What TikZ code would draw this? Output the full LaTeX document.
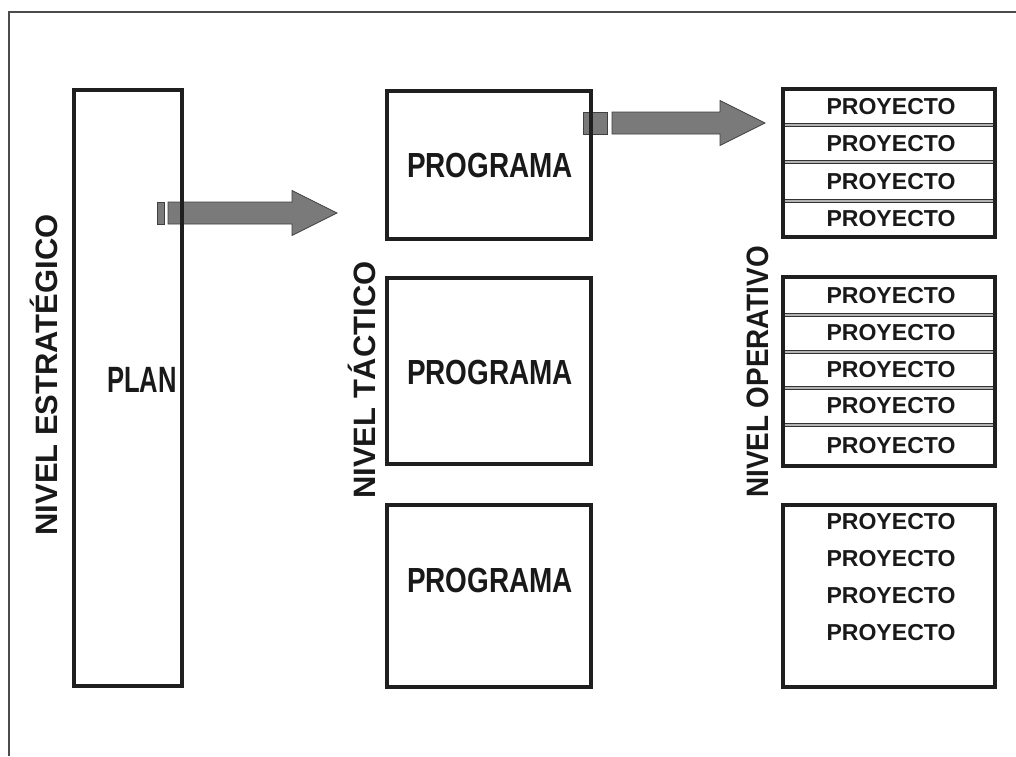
\documentclass[tikz,border=0pt]{standalone}
\usepackage{fontspec}
\setmainfont{Liberation Sans}
\newfontfamily\progfont[FakeStretch=0.8]{Liberation Sans Bold}
\newfontfamily\planfont[FakeStretch=0.7]{Liberation Sans Bold}
\newfontfamily\projfont{Liberation Sans Bold}
\newfontfamily\levelfont{Liberation Sans Bold}
\newfontfamily\levelnarrowfont[FakeStretch=0.9]{Liberation Sans Bold}
\usetikzlibrary{positioning, calc}

\def\pxu{0.025cm}
\tikzset{
  box/.style={draw=black!88, line width=3.5pt, inner sep=0pt},
  level/.style={rotate=90, text=black!90, font=\levelfont\fontsize{22}{24}\selectfont},
  prog/.style={text=black!90, font=\progfont\fontsize{24.8}{26}\selectfont},
  proj/.style={text=black!90, font=\projfont\fontsize{16.4}{18}\selectfont},
  sep/.style={draw=black!80, line width=0.55pt, double=black!30, double distance=1.3pt},
  blockarrow/.style={fill=black!52, draw=black!75, line width=0.6pt}
}
% block arrow: tail x, head base x, tip x, centre y
\newcommand{\blockarrow}[4]{%
  \draw[blockarrow] (#1,#4-11) -- (#2,#4-11) -- (#2,#4-22.5) -- (#3,#4)
    -- (#2,#4+22.5) -- (#2,#4+11) -- (#1,#4+11) -- cycle;}

\begin{document}
\begin{tikzpicture}[x=0.025cm, y=-0.025cm]
\useasboundingbox (0,0) rectangle (1016,756);

% Frame
\draw[black!70, line width=0.8pt] (9,756) -- (9,12) -- (1016,12);

% Arrows (under the boxes)
\draw[blockarrow] (157,202) rectangle (164,224);
\blockarrow{168}{292}{337}{213}
\draw[blockarrow] (583,112) rectangle (607,134);
\blockarrow{612}{720}{765}{123}

% Strategic level
\node[box, minimum width=108*\pxu, minimum height=596*\pxu] (plan) at (128,388) {};
\node[text=black!90, font=\planfont\fontsize{26}{28}\selectfont] (plantext) at (142,380) {PLAN};
\node[level] (estr) at (44,375) {NIVEL ESTRATÉGICO};

% Tactical level
\node[box, minimum width=204*\pxu, minimum height=148*\pxu] (prog1) at (489,165) {};
\node[box, minimum width=204*\pxu, minimum height=186*\pxu] (prog2) at (489,371) {};
\node[box, minimum width=204*\pxu, minimum height=182*\pxu] (prog3) at (489,596) {};
\foreach \y/\n in {165/1, 372/2, 580/3}
  \node[prog] (progtext\n) at (490,\y) {PROGRAMA};
\node[level] (tact) at (362,380) {NIVEL TÁCTICO};

% Operative level
\node[box, minimum width=212*\pxu, minimum height=148*\pxu] (projA) at (889,163) {};
\node[box, minimum width=212*\pxu, minimum height=189*\pxu] (projB) at (889,371.5) {};
\node[box, minimum width=212*\pxu, minimum height=182*\pxu] (projC) at (889,596) {};
\foreach \y in {125,162,201}
  \draw[sep] (785,\y) -- (993,\y);
\foreach \y in {315,352,388,425}
  \draw[sep] (785,\y) -- (993,\y);
\foreach \y in {107,144,182,219, 296,333,370,406,446, 522,559,596,633}
  \node[proj] at (891,\y) {PROYECTO};
\node[level, font=\levelnarrowfont\fontsize{22}{24}\selectfont] (oper) at (758,372) {NIVEL OPERATIVO};
\end{tikzpicture}
\end{document}
